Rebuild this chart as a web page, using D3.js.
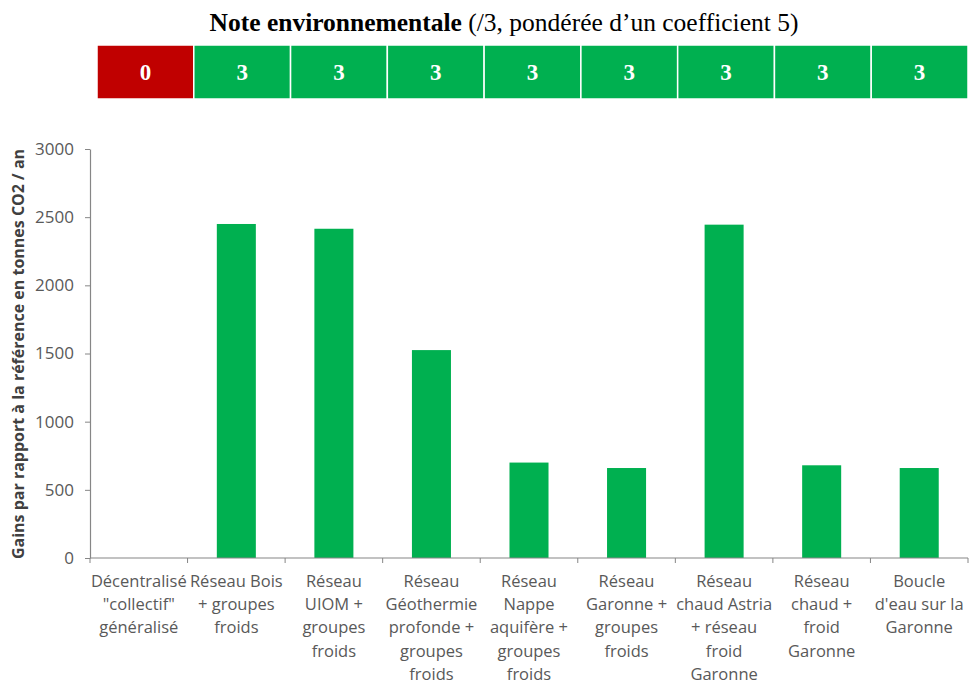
<!DOCTYPE html>
<html>
<head>
<meta charset="utf-8">
<script src="https://cdn.jsdelivr.net/npm/d3@7"></script>
<style>
  html, body { margin: 0; padding: 0; background: #fff; }
  svg { display: block; }
</style>
</head>
<body>
<svg id="chart" width="969" height="684"></svg>
<script>
// Scénarios comparés (libellés sur plusieurs lignes)
const categories = [
  ["Décentralisé", "\"collectif\"", "généralisé"],
  ["Réseau Bois", "+ groupes", "froids"],
  ["Réseau", "UIOM +", "groupes", "froids"],
  ["Réseau", "Géothermie", "profonde +", "groupes", "froids"],
  ["Réseau", "Nappe", "aquifère +", "groupes", "froids"],
  ["Réseau", "Garonne +", "groupes", "froids"],
  ["Réseau", "chaud Astria", "+ réseau", "froid", "Garonne"],
  ["Réseau", "chaud +", "froid", "Garonne"],
  ["Boucle", "d'eau sur la", "Garonne"]
];
// Gains en tonnes CO2 / an
const gains = [0, 2450, 2415, 1525, 700, 660, 2445, 680, 660];
// Note environnementale (/3)
const notes = [0, 3, 3, 3, 3, 3, 3, 3, 3];
const yTicks = [0, 500, 1000, 1500, 2000, 2500, 3000];

const svg = d3.select("#chart");
const GREEN = "#00B050", RED = "#C00000", AXIS = "#868686", TXT = "#595959";
const SANS = "'Open Sans', sans-serif", SERIF = "'Liberation Serif', serif";

const x0 = 90, x1 = 968, yTop = 149, yBase = 558;
const ids = categories.map((d, i) => i);

const x = d3.scaleBand().domain(ids).range([x0, x1]);
const y = d3.scaleLinear().domain([0, 3000]).range([yBase, yTop]);

// Titre
const title = svg.append("text")
  .attr("x", 504).attr("y", 31)
  .attr("text-anchor", "middle")
  .style("font-family", SERIF)
  .style("font-size", "25.5px")
  .attr("fill", "#000");
title.append("tspan").style("font-weight", "bold").text("Note environnementale");
title.append("tspan").text(" (/3, pondérée d’un coefficient 5)");

// Bandeau des notes
const hx = d3.scaleBand().domain(ids).range([97, 968]);
const cells = svg.append("g").selectAll("g").data(notes).join("g")
  .attr("transform", (d, i) => `translate(${hx(i)},45)`);
cells.append("rect")
  .attr("width", hx.bandwidth()).attr("height", 54)
  .attr("fill", d => d === 0 ? RED : GREEN)
  .attr("stroke", "#fff").attr("stroke-width", 1.5);
cells.append("text")
  .attr("x", hx.bandwidth() / 2).attr("y", 35)
  .attr("text-anchor", "middle")
  .style("font-family", SERIF)
  .style("font-size", "23px").style("font-weight", "bold")
  .attr("fill", "#fff")
  .text(d => d);

// Barres
const bw = x.bandwidth() * 0.4;
svg.append("g").selectAll("rect").data(gains).join("rect")
  .attr("x", (d, i) => x(i) + (x.bandwidth() - bw) / 2)
  .attr("y", d => y(d))
  .attr("width", bw)
  .attr("height", d => yBase - y(d))
  .attr("fill", GREEN);

// Axe Y
const yAxis = svg.append("g").attr("transform", `translate(${x0},0)`)
  .call(d3.axisLeft(y).tickValues(yTicks).tickFormat(d3.format("d"))
    .tickSize(5).tickPadding(11).tickSizeOuter(0));
yAxis.select(".domain").attr("stroke", AXIS).attr("stroke-width", 1.2);
yAxis.selectAll(".tick line").attr("stroke", AXIS);
yAxis.selectAll(".tick text")
  .style("font-family", SANS).style("font-size", "17px").attr("fill", TXT);

// Axe X
const xAxis = svg.append("g").attr("transform", `translate(0,${yBase})`);
xAxis.append("line").attr("x1", x0).attr("x2", x1).attr("stroke", AXIS).attr("stroke-width", 1.2);
xAxis.selectAll("line.tk").data(d3.range(categories.length + 1)).join("line")
  .attr("class", "tk")
  .attr("x1", i => x0 + i * x.bandwidth()).attr("x2", i => x0 + i * x.bandwidth())
  .attr("y1", 0).attr("y2", 5).attr("stroke", AXIS);

const labels = svg.append("g").selectAll("text").data(categories).join("text")
  .attr("text-anchor", "middle")
  .style("font-family", SANS).style("font-size", "16.5px")
  .attr("fill", TXT);
labels.selectAll("tspan").data((d, i) => d.map(l => ({ l, i }))).join("tspan")
  .attr("x", d => x(d.i) + x.bandwidth() / 2)
  .attr("y", (d, j) => 587 + j * 23.2)
  .text(d => d.l);

// Titre de l'axe Y
svg.append("text")
  .attr("transform", "translate(24,354) rotate(-90)")
  .attr("text-anchor", "middle")
  .style("font-family", SANS).style("font-size", "16px").style("font-weight", "bold")
  .attr("fill", "#404040")
  .text("Gains par rapport à la référence en tonnes CO2 / an");
</script>
</body>
</html>
